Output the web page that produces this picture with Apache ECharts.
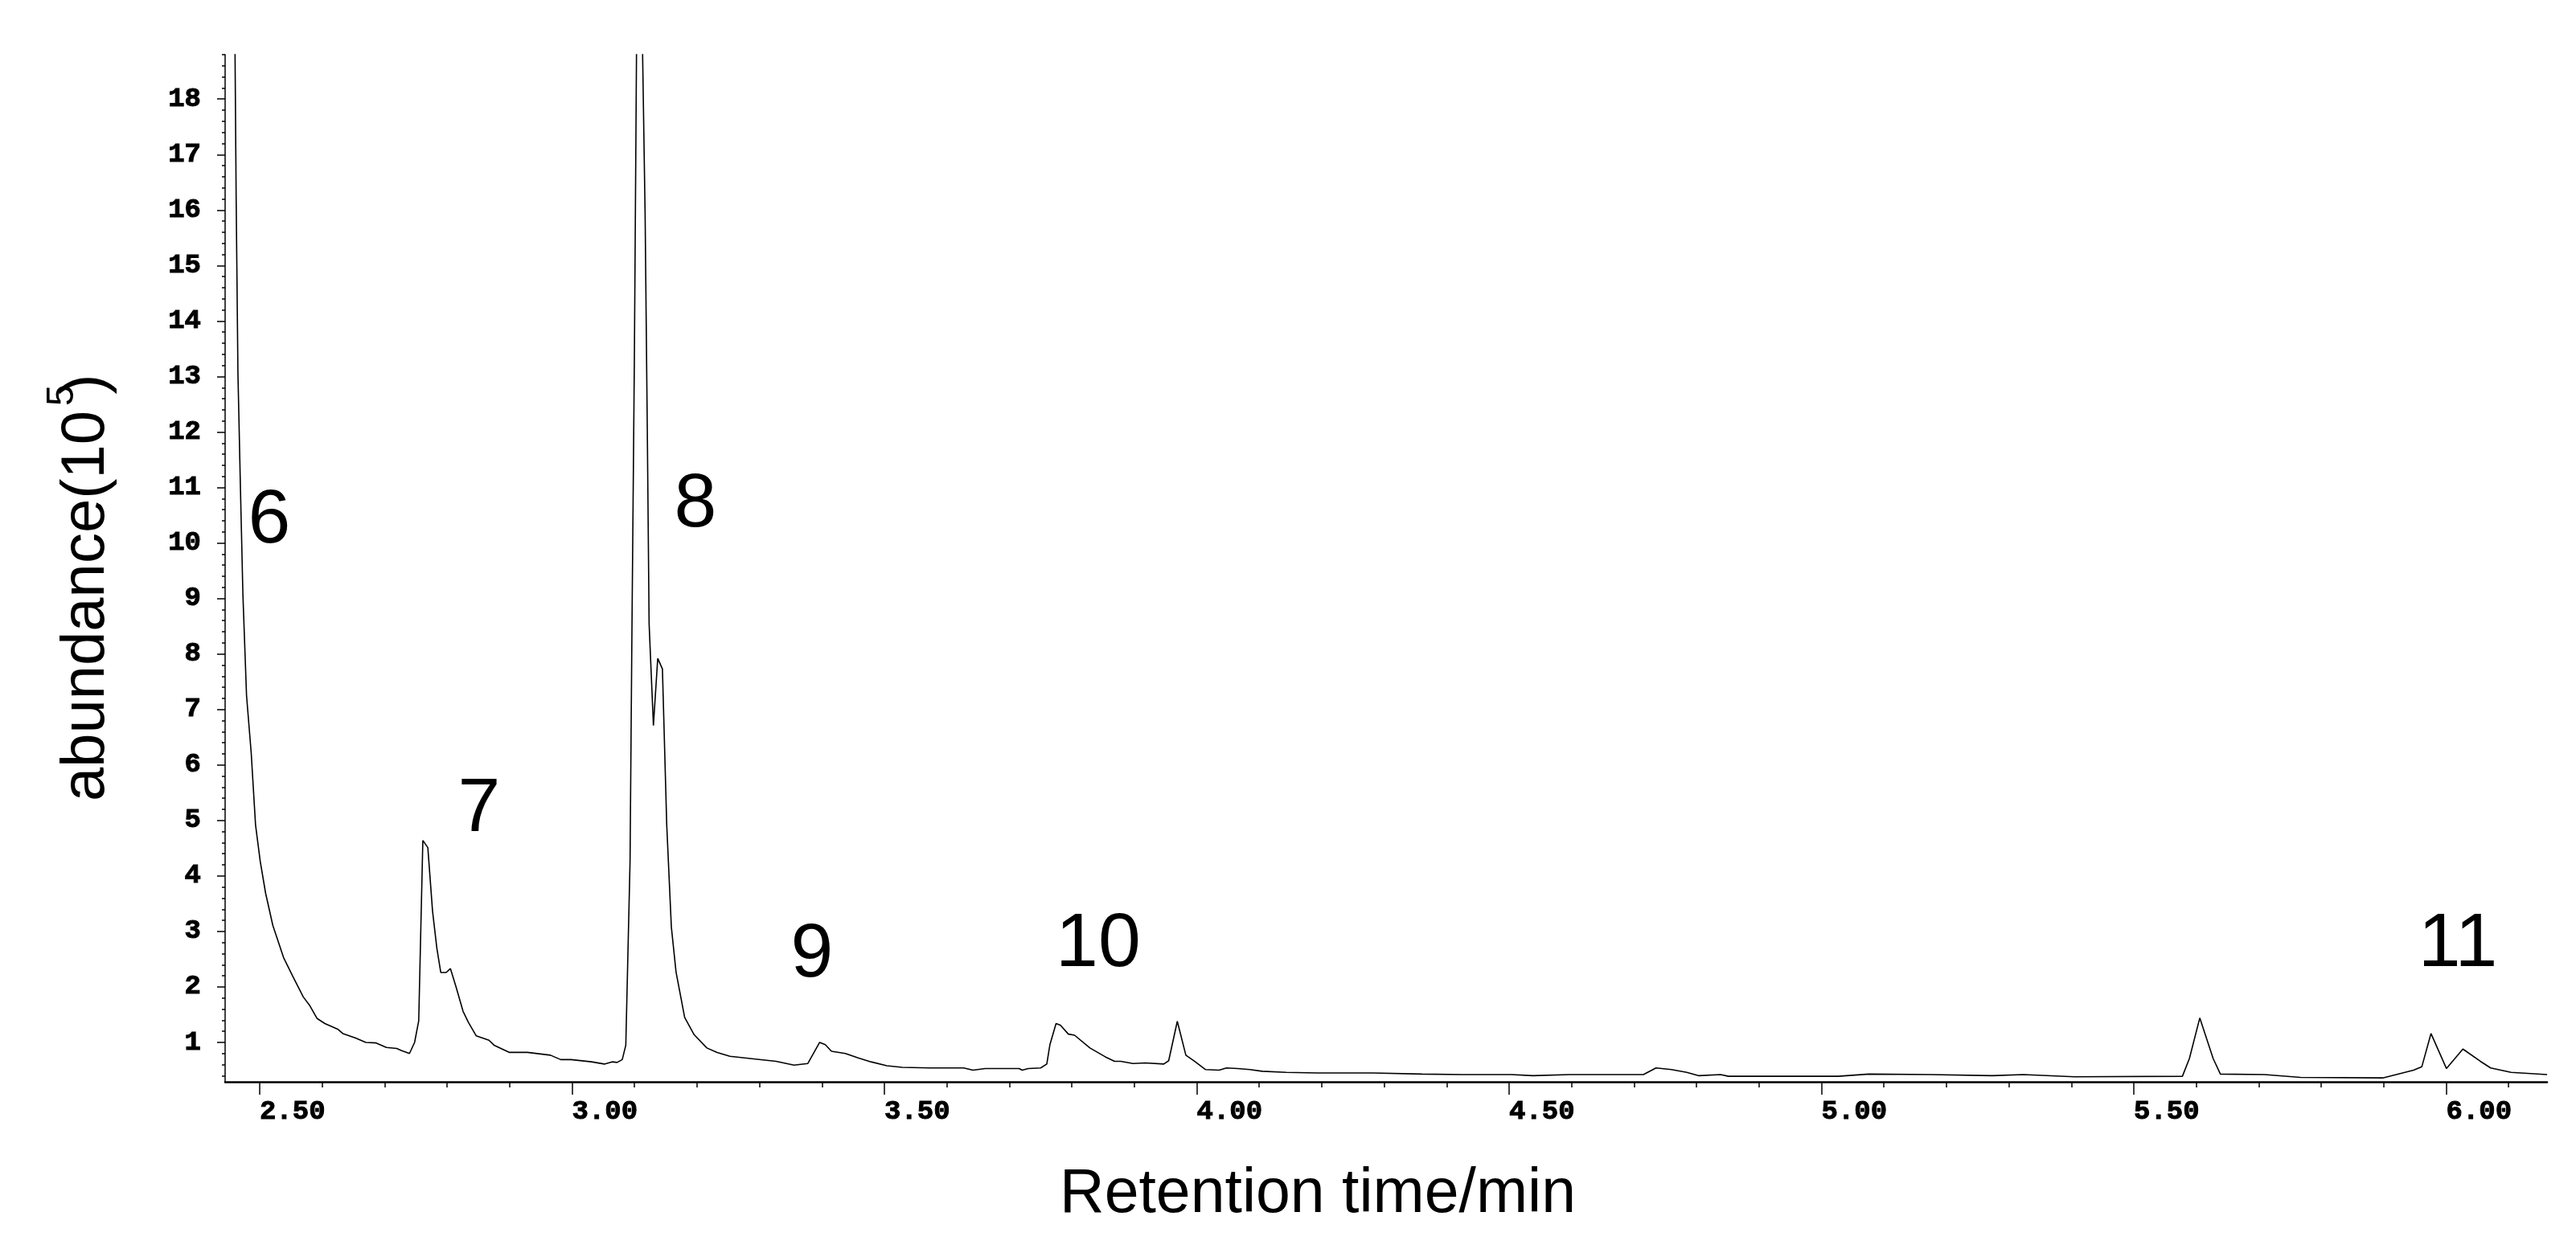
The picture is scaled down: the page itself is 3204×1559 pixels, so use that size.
<!DOCTYPE html>
<html>
<head>
<meta charset="utf-8">
<title>Chromatogram</title>
<script src="https://cdn.jsdelivr.net/npm/echarts@6.0.0/dist/echarts.min.js"></script>
<style>
  html, body { margin: 0; padding: 0; background: #fff; }
  #main { width: 3204px; height: 1559px; }
</style>
</head>
<body>
<div id="main"></div>
<script type="text/javascript">
// axis ranges
var xMin = 2.4447, xMax = 6.1615;
var yMin = 0.29, yMax = 18.8;

// labelled ticks
var xMajorTicks = [2.5, 3.0, 3.5, 4.0, 4.5, 5.0, 5.5, 6.0];
var yMajorTicks = [1, 2, 3, 4, 5, 6, 7, 8, 9, 10, 11, 12, 13, 14, 15, 16, 17, 18];

// small ticks every 0.1 min and every 0.2 on abundance
var xMinorTicks = [];
for (var i = 25; i <= 61; i++) xMinorTicks.push(i / 10);
var yMinorTicks = [];
for (var j = 2; j <= 94; j++) yMinorTicks.push(j / 5);

// [retention time (min), abundance (1e5)]
var trace = [
  [2.457, 24], [2.4606, 18.8], [2.4624, 16.18], [2.4652, 13.07], [2.4692, 11.0],
  [2.4732, 9.06], [2.479, 7.25], [2.4865, 6.21], [2.4934, 4.92], [2.5008, 4.27],
  [2.5095, 3.69], [2.521, 3.11], [2.5382, 2.53], [2.5526, 2.20], [2.5698, 1.82],
  [2.5798, 1.67], [2.592, 1.43], [2.6044, 1.34], [2.6248, 1.24], [2.6331, 1.16],
  [2.6535, 1.08], [2.67, 1.00], [2.6865, 0.99], [2.7028, 0.91], [2.7193, 0.89],
  [2.7274, 0.85], [2.7398, 0.80], [2.748, 1.00], [2.7546, 1.39], [2.7612, 4.64],
  [2.7692, 4.51], [2.7767, 3.37], [2.7836, 2.70], [2.7899, 2.26], [2.7985, 2.26],
  [2.8054, 2.33], [2.8141, 2.01], [2.8256, 1.56], [2.8342, 1.36], [2.8465, 1.12],
  [2.867, 1.04], [2.8752, 0.95], [2.8999, 0.82], [2.9162, 0.82], [2.9286, 0.82],
  [2.9655, 0.77], [2.9819, 0.69], [2.9983, 0.69], [3.0311, 0.65], [3.0517, 0.61],
  [3.064, 0.65], [3.0722, 0.64], [3.0804, 0.69], [3.0861, 0.95], [3.0929, 4.27],
  [3.0957, 8.15], [3.0998, 13.33], [3.1032, 18.8], [3.106, 24], [3.110, 24],
  [3.113, 18.8], [3.117, 15.92], [3.1205, 12.04], [3.1234, 8.54], [3.1303, 6.71],
  [3.1372, 7.92], [3.1447, 7.73], [3.1516, 4.92], [3.159, 3.08], [3.1665, 2.27],
  [3.1803, 1.45], [3.1954, 1.14], [3.2158, 0.90], [3.2323, 0.82], [3.2528, 0.75],
  [3.2938, 0.70], [3.3266, 0.66], [3.3553, 0.59], [3.3775, 0.62], [3.3964, 1.00],
  [3.4054, 0.96], [3.4153, 0.84], [3.4375, 0.80], [3.458, 0.72], [3.4785, 0.65],
  [3.5039, 0.58], [3.5286, 0.55], [3.5729, 0.54], [3.627, 0.54], [3.6418, 0.50],
  [3.6615, 0.53], [3.7157, 0.53], [3.7206, 0.50], [3.7305, 0.53], [3.7502, 0.54],
  [3.76, 0.61], [3.765, 0.96], [3.7748, 1.34], [3.7817, 1.31], [3.7945, 1.15],
  [3.8044, 1.13], [3.829, 0.90], [3.8536, 0.74], [3.8684, 0.66], [3.8783, 0.66],
  [3.898, 0.62], [3.9177, 0.63], [3.9473, 0.61], [3.9551, 0.67], [3.9689, 1.38],
  [3.9826, 0.77], [3.9964, 0.66], [4.0142, 0.51], [4.0358, 0.50], [4.0476, 0.54],
  [4.0654, 0.53], [4.0851, 0.51], [4.1048, 0.48], [4.1433, 0.46], [4.1934, 0.45],
  [4.2819, 0.45], [4.3608, 0.43], [4.425, 0.42], [4.5036, 0.42], [4.538, 0.40],
  [4.597, 0.42], [4.715, 0.42], [4.7352, 0.54], [4.7598, 0.51], [4.7844, 0.46],
  [4.804, 0.40], [4.8385, 0.42], [4.851, 0.39], [5.0268, 0.39], [5.076, 0.43],
  [5.1748, 0.42], [5.2735, 0.40], [5.3228, 0.42], [5.405, 0.38], [5.5778, 0.39],
  [5.589, 0.71], [5.6056, 1.44], [5.627, 0.71], [5.6386, 0.43], [5.7093, 0.42],
  [5.7668, 0.37], [5.8985, 0.36], [5.9479, 0.50], [5.961, 0.56], [5.9757, 1.16],
  [6.0004, 0.53], [6.0268, 0.88], [6.0547, 0.66], [6.0712, 0.54], [6.104, 0.46],
  [6.1616, 0.42]
];

// peak numbers: [label, time, abundance]
var peakLabels = [
  ['6', 2.5154, 10.39],
  ['7', 2.8514, 5.19],
  ['8', 3.1976, 10.68],
  ['9', 3.3842, 2.57],
  ['10', 3.8423, 2.76],
  ['11', 6.0187, 2.75]
];

var myChart = echarts.init(document.getElementById('main'));

// heavy slab-serif look for the tick numbers
var tickFont = {
  color: '#000',
  fontFamily: 'Liberation Mono',
  fontWeight: 'bold',
  fontSize: 34,
  textBorderColor: '#000',
  textBorderWidth: 1
};

var option = {
  animation: false,
  backgroundColor: '#fff',
  grid: { left: 280, right: 36, top: 68, bottom: 213 },
  xAxis: [{
    type: 'value',
    min: xMin,
    max: xMax,
    position: 'bottom',
    axisLine: { onZero: false, lineStyle: { color: '#000', width: 2.5 } },
    axisTick: { customValues: xMajorTicks, length: 16, lineStyle: { color: '#000', width: 1.5 } },
    axisLabel: Object.assign({
      customValues: xMajorTicks,
      formatter: function (v) { return v.toFixed(2); },
      align: 'left',
      margin: 20
    }, tickFont),
    splitLine: { show: false }
  }, {
    type: 'value',
    min: xMin,
    max: xMax,
    position: 'bottom',
    axisLine: { show: false, onZero: false },
    axisTick: { customValues: xMinorTicks, length: 7, lineStyle: { color: '#000', width: 1.5 } },
    axisLabel: { show: false },
    splitLine: { show: false }
  }],
  yAxis: [{
    type: 'value',
    min: yMin,
    max: yMax,
    position: 'left',
    axisLine: { show: true, onZero: false, lineStyle: { color: '#000', width: 1.5 } },
    axisTick: { show: true, customValues: yMajorTicks, length: 10, lineStyle: { color: '#000', width: 1.5 } },
    axisLabel: Object.assign({
      customValues: yMajorTicks,
      formatter: function (v) { return String(v); },
      margin: 30
    }, tickFont),
    splitLine: { show: false }
  }, {
    type: 'value',
    min: yMin,
    max: yMax,
    position: 'left',
    axisLine: { show: false, onZero: false },
    axisTick: { show: true, customValues: yMinorTicks, length: 4, lineStyle: { color: '#000', width: 1.5 } },
    axisLabel: { show: false },
    splitLine: { show: false }
  }],
  graphic: [{
    type: 'text',
    x: 1639,
    y: 1487,
    style: {
      text: 'Retention time/min',
      fill: '#000',
      fontFamily: 'Liberation Sans',
      fontSize: 77,
      align: 'center',
      verticalAlign: 'middle'
    }
  }, {
    type: 'text',
    x: 108,
    y: 511,
    rotation: Math.PI / 2,
    style: {
      text: 'abundance(10',
      fill: '#000',
      fontFamily: 'Liberation Sans',
      fontSize: 76,
      align: 'right',
      verticalAlign: 'middle'
    }
  }, {
    type: 'text',
    x: 108,
    y: 478,
    rotation: Math.PI / 2,
    style: {
      text: ')',
      fill: '#000',
      fontFamily: 'Liberation Sans',
      fontSize: 76,
      align: 'center',
      verticalAlign: 'middle'
    }
  }, {
    type: 'text',
    x: 78,
    y: 492,
    rotation: Math.PI / 2,
    style: {
      text: '5',
      fill: '#000',
      fontFamily: 'Liberation Sans',
      fontSize: 48,
      align: 'center',
      verticalAlign: 'middle'
    }
  }],
  series: [{
    name: 'TIC',
    type: 'line',
    data: trace,
    symbol: 'none',
    clip: true,
    silent: true,
    lineStyle: { color: '#000', width: 1.6 }
  }, {
    name: 'peaks',
    type: 'scatter',
    silent: true,
    symbolSize: 0,
    itemStyle: { opacity: 1 },
    data: peakLabels.map(function (p) { return { name: p[0], value: [p[1], p[2]] }; }),
    label: {
      show: true,
      position: 'inside',
      formatter: '{b}',
      color: '#000',
      opacity: 1,
      fontFamily: 'Liberation Sans',
      fontSize: 95,
      align: 'center',
      verticalAlign: 'middle'
    }
  }]
};

myChart.setOption(option);
</script>
</body>
</html>
